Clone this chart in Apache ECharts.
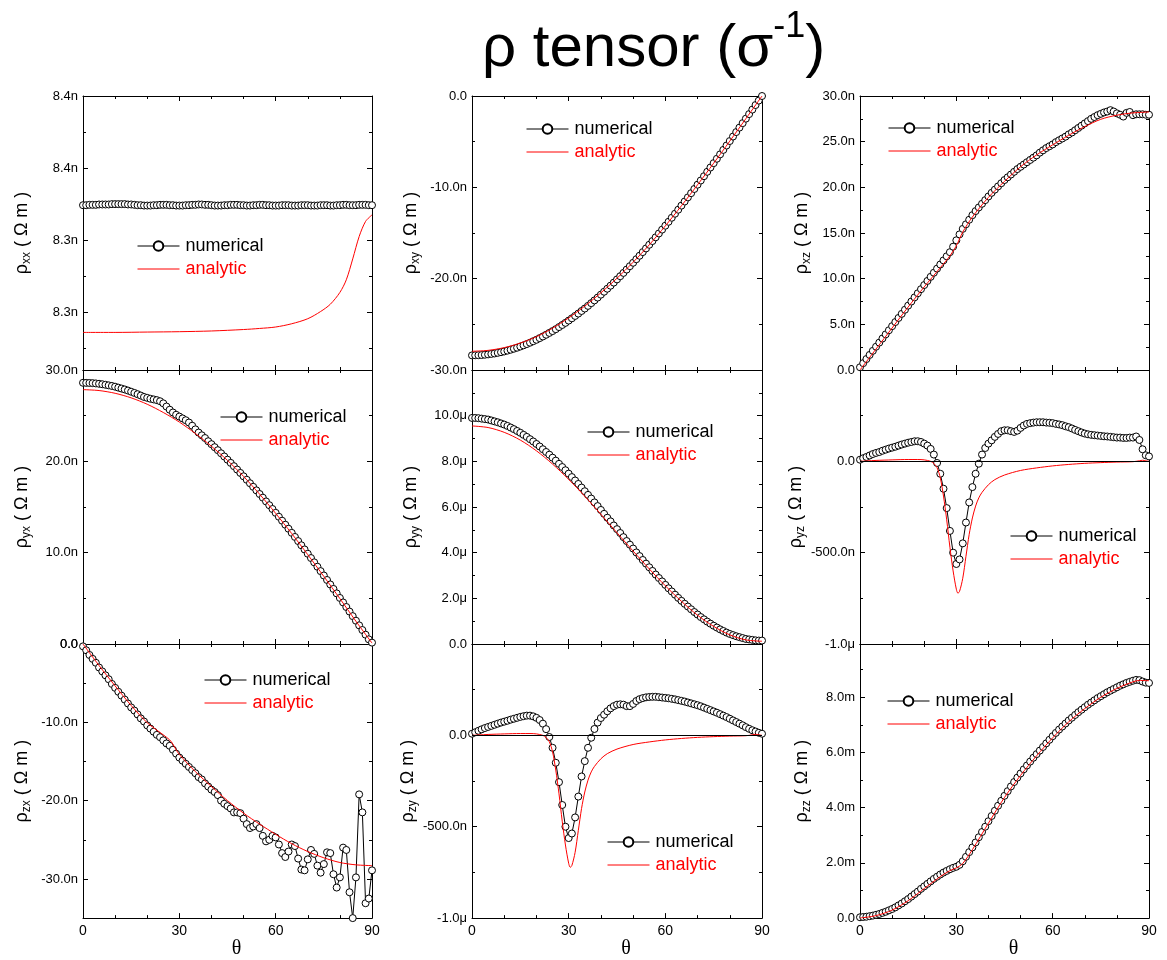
<!DOCTYPE html>
<html><head><meta charset="utf-8">
<script src="https://cdn.jsdelivr.net/npm/echarts@6/dist/echarts.min.js"></script>
<style>html,body{margin:0;padding:0;background:#fff}#c{width:1167px;height:960px}</style>
</head><body><div id="c"></div>
<script>
// ---------- DATA ----------
const theta = [
 0,1,2,3,4,5,6,7,8,9,
 10,11,12,13,14,15,16,17,18,19,
 20,21,22,23,24,25,26,27,28,29,
 30,31,32,33,34,35,36,37,38,39,
 40,41,42,43,44,45,46,47,48,49,
 50,51,52,53,54,55,56,57,58,59,
 60,61,62,63,64,65,66,67,68,69,
 70,71,72,73,74,75,76,77,78,79,
 80,81,82,83,84,85,86,87,88,89,
 90];

// rho_xx (n Ohm m)
const xxNum = [
 8.3497,8.3497,8.3498,8.3498,8.3498,8.3499,8.3499,8.3499,8.3499,8.3500,
 8.3500,8.3500,8.3500,8.3500,8.3499,8.3499,8.3498,8.3497,8.3497,8.3496,
 8.3496,8.3496,8.3497,8.3497,8.3498,8.3498,8.3498,8.3497,8.3497,8.3496,
 8.3496,8.3496,8.3497,8.3497,8.3498,8.3498,8.3499,8.3499,8.3498,8.3498,
 8.3497,8.3496,8.3496,8.3496,8.3497,8.3497,8.3498,8.3498,8.3498,8.3497,
 8.3497,8.3496,8.3496,8.3497,8.3497,8.3498,8.3498,8.3497,8.3497,8.3496,
 8.3496,8.3496,8.3497,8.3497,8.3497,8.3496,8.3496,8.3496,8.3497,8.3497,
 8.3497,8.3496,8.3496,8.3496,8.3497,8.3497,8.3497,8.3496,8.3496,8.3497,
 8.3497,8.3498,8.3498,8.3497,8.3497,8.3497,8.3498,8.3498,8.3498,8.3497,
 8.3497];
const xxAnaTheta = [0,10,20,30,40,50,55,60,65,70,74,77,80,82,84,86,88,90];
const xxAna = [8.3144,8.3144,8.3145,8.3146,8.3148,8.3152,8.3155,8.3159,8.3168,8.3182,8.3202,8.3222,8.3255,8.3290,8.3348,8.3410,8.3452,8.3470];

// rho_xy (n)
const xyNum = [
 -28.40,-28.39,-28.38,-28.36,-28.33,-28.29,-28.24,-28.19,-28.12,-28.05,
 -27.97,-27.88,-27.78,-27.67,-27.56,-27.43,-27.30,-27.16,-27.01,-26.85,
 -26.69,-26.51,-26.33,-26.14,-25.94,-25.74,-25.53,-25.30,-25.07,-24.84,
 -24.59,-24.34,-24.08,-23.82,-23.54,-23.27,-22.98,-22.68,-22.38,-22.07,
 -21.75,-21.43,-21.10,-20.77,-20.43,-20.08,-19.73,-19.37,-19.00,-18.63,
 -18.26,-17.87,-17.49,-17.09,-16.69,-16.29,-15.88,-15.47,-15.05,-14.63,
 -14.20,-13.77,-13.33,-12.89,-12.45,-12.00,-11.55,-11.10,-10.64,-10.18,
 -9.71,-9.25,-8.78,-8.30,-7.83,-7.35,-6.87,-6.39,-5.90,-5.42,
 -4.93,-4.44,-3.95,-3.46,-2.97,-2.48,-1.98,-1.49,-0.99,-0.50,
 0.00];
const xyAnaTheta = [0,5,10,15,20,25,30,35,40,45,50,55,60,65,70,75,80,85,90];
const xyAna = [-27.95,-27.85,-27.55,-27.05,-26.35,-25.42,-24.30,-23.00,-21.55,-19.95,-18.20,-16.30,-14.22,-12.02,-9.72,-7.36,-4.94,-2.48,0.00];

// rho_xz (n)
const xzNum = [
 0.30,0.75,1.20,1.65,2.10,2.55,3.00,3.45,3.90,4.35,
 4.80,5.25,5.70,6.15,6.60,7.05,7.50,7.95,8.40,8.85,
 9.30,9.75,10.20,10.65,11.10,11.55,12.00,12.45,12.90,13.50,
 14.20,14.85,15.45,15.95,16.45,16.95,17.40,17.80,18.20,18.60,
 19.00,19.40,19.75,20.10,20.45,20.80,21.10,21.40,21.70,22.00,
 22.25,22.50,22.75,23.00,23.25,23.50,23.80,24.05,24.30,24.50,
 24.70,24.95,25.15,25.35,25.55,25.80,26.00,26.25,26.50,26.75,
 27.00,27.25,27.50,27.70,27.90,28.05,28.20,28.30,28.45,28.30,
 28.10,27.95,27.75,28.15,28.25,27.90,28.00,28.00,28.00,27.95,
 27.95];
const xzAnaTheta = [0,5,10,15,20,25,28,30,32,35,40,45,50,55,60,65,70,75,80,85,90];
const xzAna = [0.00,2.30,4.60,6.90,9.10,11.20,12.50,13.60,15.10,16.75,18.90,20.65,22.25,23.55,24.65,25.70,26.65,27.45,27.90,28.15,28.25];

// rho_yx (n)
const yxNum = [
 28.60,28.59,28.58,28.56,28.53,28.49,28.44,28.38,28.32,28.25,
 28.17,28.07,27.97,27.87,27.75,27.62,27.49,27.35,27.20,27.05,
 26.95,26.85,26.78,26.70,26.58,26.35,26.00,25.65,25.35,25.10,
 24.90,24.70,24.50,24.25,23.90,23.50,23.15,22.85,22.55,22.20,
 21.88,21.55,21.22,20.88,20.53,20.18,19.83,19.47,19.10,18.73,
 18.36,17.98,17.60,17.21,16.82,16.42,16.02,15.61,15.20,14.78,
 14.36,13.93,13.50,13.06,12.62,12.17,11.72,11.27,10.81,10.35,
 9.88,9.41,8.94,8.46,7.98,7.50,7.01,6.52,6.03,5.54,
 5.04,4.55,4.05,3.55,3.05,2.55,2.04,1.53,1.02,0.51,
 0.15];
const yxAnaTheta = [0,5,10,15,20,25,30,35,40,45,50,55,60,65,70,75,80,85,90];
const yxAna = [27.85,27.75,27.45,26.95,26.25,25.35,24.30,23.05,21.65,20.10,18.35,16.40,14.30,12.09,9.78,7.40,4.97,2.49,0.10];

// rho_yy (micro)
const yyNum = [
 9.90,9.90,9.89,9.87,9.85,9.83,9.79,9.75,9.71,9.66,
 9.61,9.55,9.48,9.41,9.33,9.25,9.16,9.07,8.97,8.87,
 8.76,8.65,8.53,8.41,8.29,8.16,8.03,7.89,7.75,7.61,
 7.46,7.31,7.16,7.01,6.85,6.69,6.53,6.37,6.20,6.04,
 5.87,5.70,5.53,5.37,5.19,5.03,4.86,4.68,4.51,4.35,
 4.18,4.01,3.85,3.68,3.52,3.36,3.20,3.04,2.89,2.74,
 2.59,2.44,2.30,2.16,2.02,1.89,1.76,1.64,1.52,1.40,
 1.29,1.18,1.08,0.98,0.89,0.80,0.72,0.64,0.57,0.50,
 0.44,0.39,0.34,0.30,0.26,0.22,0.20,0.18,0.16,0.15,
 0.15];
const yyAnaTheta = [0,5,10,15,20,25,30,35,40,45,50,55,60,65,70,75,80,85,90];
const yyAna = [9.55,9.48,9.27,8.93,8.46,7.88,7.21,6.47,5.68,4.87,4.07,3.29,2.55,1.87,1.26,0.77,0.40,0.18,0.12];

// rho_yz (n)
const yzNum = [
 9,17,24,32,40,46,51,58,64,70,
 75,80,86,92,97,102,106,110,110,106,
 97,86,68,37,-9,-68,-150,-256,-381,-500,
 -562,-537,-449,-335,-225,-141,-68,-13,37,73,
 97,115,134,150,165,170,170,165,161,168,
 183,196,205,209,212,214,214,214,212,211,
 209,205,202,198,192,187,180,172,165,158,
 152,148,145,143,141,139,137,136,134,132,
 130,130,128,128,130,130,136,117,66,33,
 27];
const yzAnaTheta = [0,5,10,15,18,20,22,23,24,25,26,27,28,29,30,30.5,31,32,33,34,35,36,37,38,40,42,45,50,55,60,65,70,75,80,85,87,88,89,90];
const yzAna = [0,5,8,10,10,8,0,-12,-35,-90,-190,-320,-470,-600,-700,-722,-712,-640,-520,-400,-310,-245,-200,-170,-128,-100,-75,-50,-36,-25,-17,-11,-7,-4,-2,3,6,3,0];

// rho_zx (n)
const zxNum = [
 -0.3,-0.8,-1.4,-1.9,-2.4,-3.0,-3.5,-4.0,-4.5,-5.1,
 -5.6,-6.1,-6.6,-7.1,-7.6,-8.1,-8.5,-9.0,-9.5,-9.9,
 -10.4,-10.8,-11.2,-11.6,-11.9,-12.3,-12.7,-13.0,-13.5,-14.0,
 -14.5,-14.9,-15.3,-15.7,-16.1,-16.5,-17.0,-17.3,-17.8,-18.2,
 -18.6,-18.9,-19.3,-20.0,-20.4,-20.7,-21.0,-21.5,-21.5,-21.6,
 -22.3,-23.0,-23.5,-23.3,-23.0,-23.5,-24.5,-25.2,-25.0,-24.5,
 -24.7,-25.6,-26.7,-27.2,-26.5,-25.6,-25.8,-27.4,-28.8,-28.9,
 -27.5,-26.3,-26.8,-28.3,-29.2,-28.1,-26.6,-26.7,-29.4,-31.1,
 -29.8,-26.0,-26.3,-31.7,-35.0,-29.8,-19.2,-21.5,-33.1,-32.5,
 -28.9];
const zxAnaTheta = [0,5,10,15,20,25,27,28,29,30,35,40,45,50,55,60,65,70,75,80,85,90];
const zxAna = [0,-2.75,-5.35,-7.85,-10.05,-11.60,-12.25,-12.80,-13.50,-14.10,-16.30,-18.20,-20.00,-21.60,-23.00,-24.30,-25.50,-26.50,-27.30,-27.90,-28.20,-28.30];

// rho_zy (n)
const zyNum = [
 9,17,25,33,40,46,52,58,64,70,
 75,80,86,91,96,101,105,108,108,104,
 96,84,64,34,-9,-68,-150,-256,-381,-500,
 -562,-537,-449,-335,-225,-141,-68,-13,35,70,
 95,113,132,148,160,168,170,168,160,160,
 172,188,198,204,208,210,211,211,209,207,
 205,203,200,197,193,189,185,180,175,170,
 165,159,152,145,138,131,124,116,108,100,
 91,82,73,64,55,45,36,28,21,14,
 9];
const zyAnaTheta = [0,5,10,15,18,20,22,23,24,25,26,27,28,29,30,30.5,31,32,33,34,35,36,37,38,40,42,45,50,55,60,65,70,75,80,85,87,88,89,90];
const zyAna = [0,5,8,10,10,8,0,-12,-35,-90,-190,-320,-470,-600,-700,-722,-712,-640,-520,-400,-310,-245,-200,-170,-128,-100,-75,-50,-36,-25,-17,-11,-7,-4,-2,3,6,3,0];

// rho_zz (milli)
const zzNum = [
 0.03,0.04,0.05,0.07,0.09,0.12,0.15,0.19,0.23,0.28,
 0.33,0.39,0.46,0.53,0.61,0.69,0.78,0.87,0.96,1.06,
 1.15,1.24,1.33,1.42,1.50,1.58,1.65,1.71,1.77,1.82,
 1.86,1.93,2.06,2.22,2.39,2.56,2.74,2.93,3.12,3.31,
 3.51,3.70,3.89,4.07,4.25,4.43,4.60,4.77,4.93,5.09,
 5.24,5.39,5.53,5.67,5.81,5.94,6.07,6.20,6.33,6.46,
 6.59,6.71,6.83,6.94,7.05,7.16,7.26,7.36,7.46,7.55,
 7.64,7.73,7.81,7.89,7.97,8.04,8.11,8.18,8.24,8.30,
 8.36,8.42,8.47,8.52,8.56,8.60,8.63,8.62,8.57,8.53,
 8.52];
const zzAnaTheta = [0,5,10,15,20,25,28,30,32,35,40,45,50,55,60,65,70,75,80,85,87,90];
const zzAna = [0,0.09,0.29,0.63,1.07,1.50,1.72,1.82,1.98,2.48,3.44,4.37,5.17,5.88,6.53,7.11,7.59,8.00,8.32,8.56,8.61,8.60];

// ---------- TICKS ----------
const xMajor = [0,30,60,90];
const xMinor = [10,20,40,50,70,80];
const xLabels = ['0','30','60','90'];

const xxMajor = [8.32,8.34,8.36,8.38], xxMinor = [8.31,8.33,8.35,8.37];
const xxLabelVals = [8.32,8.34,8.36,8.38], xxLabels = ['8.3n','8.3n','8.4n','8.4n'];
const xyMajor = [-30,-20,-10,0], xyMinor = [-25,-15,-5];
const xyLabelVals = [-30,-20,-10,0], xyLabels = ['-30.0n','-20.0n','-10.0n','0.0'];
const xzMajor = [0,5,10,15,20,25,30], xzMinor = [2.5,7.5,12.5,17.5,22.5,27.5];
const xzLabelVals = [0,5,10,15,20,25,30], xzLabels = ['0.0','5.0n','10.0n','15.0n','20.0n','25.0n','30.0n'];
const yxMajor = [0,10,20,30], yxMinor = [5,15,25];
const yxLabelVals = [0,10,20,30], yxLabels = ['0.0','10.0n','20.0n','30.0n'];
const yyMajor = [0,2,4,6,8,10,12], yyMinor = [1,3,5,7,9,11];
const yyLabelVals = [0,2,4,6,8,10], yyLabels = ['0.0','2.0μ','4.0μ','6.0μ','8.0μ','10.0μ'];
const yzMajor = [-1000,-500,0,500], yzMinor = [-750,-250,250];
const yzLabelVals = [-1000,-500,0], yzLabels = ['-1.0μ','-500.0n','0.0'];
const zxMajor = [-30,-20,-10,0], zxMinor = [-25,-15,-5];
const zxLabelVals = [-30,-20,-10,0], zxLabels = ['-30.0n','-20.0n','-10.0n','0.0'];
const zyMajor = [-1000,-500,0,500], zyMinor = [-750,-250,250];
const zyLabelVals = [-1000,-500,0], zyLabels = ['-1.0μ','-500.0n','0.0'];
const zzMajor = [0,2,4,6,8], zzMinor = [1,3,5,7,9];
const zzLabelVals = [0,2,4,6,8], zzLabels = ['0.0','2.0m','4.0m','6.0m','8.0m'];

// ---------- LAYOUT ----------
const FONT = '"Liberation Sans", Arial, Helvetica, sans-serif';
const colLeft = [83, 472, 860], colW = [289, 290, 289];
const rowTop = [96, 370, 644], rowH = [274, 274, 274.5];

const panels = [
 {sub:'xx', num:xxNum, at:xxAnaTheta, av:xxAna, min:8.30397, max:8.38, major:xxMajor, minor:xxMinor, lv:xxLabelVals, lt:xxLabels, leg:[137,237], gap:50},
 {sub:'xy', num:xyNum, at:xyAnaTheta, av:xyAna, min:-30, max:0, major:xyMajor, minor:xyMinor, lv:xyLabelVals, lt:xyLabels, leg:[526,120], gap:50},
 {sub:'xz', num:xzNum, at:xzAnaTheta, av:xzAna, min:0, max:30, major:xzMajor, minor:xzMinor, lv:xzLabelVals, lt:xzLabels, leg:[888,119], gap:47},
 {sub:'yx', num:yxNum, at:yxAnaTheta, av:yxAna, min:0, max:30, major:yxMajor, minor:yxMinor, lv:yxLabelVals, lt:yxLabels, leg:[220,408], gap:50},
 {sub:'yy', num:yyNum, at:yyAnaTheta, av:yyAna, min:0, max:12, major:yyMajor, minor:yyMinor, lv:yyLabelVals, lt:yyLabels, leg:[587,423], gap:50},
 {sub:'yz', num:yzNum, at:yzAnaTheta, av:yzAna, min:-1000, max:500, major:yzMajor, minor:yzMinor, lv:yzLabelVals, lt:yzLabels, leg:[1010,527], gap:47, zero:true},
 {sub:'zx', num:zxNum, at:zxAnaTheta, av:zxAna, min:-35, max:0, major:zxMajor, minor:zxMinor, lv:zxLabelVals, lt:zxLabels, leg:[204,671], gap:50},
 {sub:'zy', num:zyNum, at:zyAnaTheta, av:zyAna, min:-1000, max:500, major:zyMajor, minor:zyMinor, lv:zyLabelVals, lt:zyLabels, leg:[607,833], gap:50, zero:true},
 {sub:'zz', num:zzNum, at:zzAnaTheta, av:zzAna, min:0, max:9.93, major:zzMajor, minor:zzMinor, lv:zzLabelVals, lt:zzLabels, leg:[887,692], gap:47}
];

const grids = [], xAxes = [], yAxes = [], series = [], legends = [];
const axisLineStyle = {color:'#000', width:1};

panels.forEach((p, i) => {
  const r = Math.floor(i / 3), c = i % 3;
  grids.push({left: colLeft[c], top: rowTop[r], width: colW[c], height: rowH[r], containLabel: false});
  const isBottom = r === 2;
  const xBase = {type:'value', gridIndex:i, min:0, max:90, splitLine:{show:false}};
  xAxes.push(Object.assign({}, xBase, {
    position:'bottom',
    axisLine:{show:true, onZero:false, lineStyle:axisLineStyle},
    axisTick:{show:true, inside:true, length:5, customValues:xMajor, lineStyle:axisLineStyle},
    axisLabel:{show:isBottom, customValues:xMajor, margin:6, color:'#000', fontSize:14, fontFamily:FONT,
      formatter: v => { const k = xMajor.indexOf(v); return k >= 0 ? xLabels[k] : ''; }},
    name: isBottom ? 'θ' : '', nameLocation:'middle', nameGap:20,
    nameTextStyle:{fontFamily:'"Liberation Serif", "DejaVu Serif", serif', fontSize:20, color:'#000', padding:[0,0,0,18]}
  }));
  xAxes.push(Object.assign({}, xBase, {
    position:'bottom', axisLine:{show:false, onZero:false},
    axisTick:{show:true, inside:true, length:3, customValues:xMinor, lineStyle:axisLineStyle},
    axisLabel:{show:false}
  }));
  xAxes.push(Object.assign({}, xBase, {
    position:'top', axisLine:{show:true, onZero:false, lineStyle:axisLineStyle},
    axisTick:{show:true, inside:true, length:5, customValues:xMajor, lineStyle:axisLineStyle},
    axisLabel:{show:false}
  }));
  xAxes.push(Object.assign({}, xBase, {
    position:'top', axisLine:{show:false, onZero:false},
    axisTick:{show:true, inside:true, length:3, customValues:xMinor, lineStyle:axisLineStyle},
    axisLabel:{show:false}
  }));

  const yBase = {type:'value', gridIndex:i, min:p.min, max:p.max, splitLine:{show:false}, scale:true};
  yAxes.push(Object.assign({}, yBase, {
    position:'left',
    axisLine:{show:true, onZero:false, lineStyle:axisLineStyle},
    axisTick:{show:true, inside:true, length:5, customValues:p.major, lineStyle:axisLineStyle},
    axisLabel:{show:true, customValues:p.lv, margin:5, color:'#000', fontSize:13, fontFamily:FONT,
      formatter: v => { for (let k = 0; k < p.lv.length; k++) { if (Math.abs(p.lv[k] - v) < 1e-7) return p.lt[k]; } return ''; }},
    name:'{r|ρ}{s|' + p.sub + '}{r| ( Ω m )}', nameLocation:'middle', nameRotate:90, nameGap:p.gap,
    nameTextStyle:{rich:{
      r:{fontSize:18, fontFamily:FONT, color:'#000'},
      s:{fontSize:12, fontFamily:FONT, color:'#000', padding:[9,0,0,0]}
    }}
  }));
  yAxes.push(Object.assign({}, yBase, {
    position:'left', axisLine:{show:false, onZero:false},
    axisTick:{show:true, inside:true, length:3, customValues:p.minor, lineStyle:axisLineStyle},
    axisLabel:{show:false}
  }));
  yAxes.push(Object.assign({}, yBase, {
    position:'right', axisLine:{show:true, onZero:false, lineStyle:axisLineStyle},
    axisTick:{show:true, inside:true, length:5, customValues:p.major, lineStyle:axisLineStyle},
    axisLabel:{show:false}
  }));
  yAxes.push(Object.assign({}, yBase, {
    position:'right', axisLine:{show:false, onZero:false},
    axisTick:{show:true, inside:true, length:3, customValues:p.minor, lineStyle:axisLineStyle},
    axisLabel:{show:false}
  }));

  const numSeries = {
    type:'line', name:'numerical', xAxisIndex:4*i, yAxisIndex:4*i,
    data: theta.map((t, k) => [t, p.num[k]]),
    symbol:'circle', symbolSize:7, showSymbol:true, showAllSymbol:true,
    lineStyle:{color:'#000', width:1},
    itemStyle:{color:'#fff', borderColor:'#000', borderWidth:1},
    clip:false, z:3, animation:false
  };
  if (p.zero) {
    numSeries.markLine = {silent:true, symbol:'none', label:{show:false}, animation:false,
      lineStyle:{color:'#000', width:1, type:'solid'}, data:[{yAxis:0}]};
  }
  series.push(numSeries);
  series.push({
    type:'line', name:'analytic', xAxisIndex:4*i, yAxisIndex:4*i,
    data: p.at.map((t, k) => [t, p.av[k]]),
    smooth:0.3, showSymbol:false, symbol:'none',
    lineStyle:{color:'#ff0000', width:1}, itemStyle:{color:'#ff0000', opacity:0},
    clip:true, z:4, animation:false
  });

  legends.push({
    left:p.leg[0], top:p.leg[1], orient:'vertical', padding:0, itemGap:5,
    itemWidth:42, itemHeight:12, selectedMode:false,
    lineStyle:{width:1},
    textStyle:{fontSize:18, fontFamily:FONT, color:'#000', padding:[0,0,0,1]},
    data:[
      {name:'numerical', textStyle:{color:'#000'}},
      {name:'analytic', textStyle:{color:'#ff0000'}, itemStyle:{opacity:0}}
    ]
  });
});

const chart = echarts.init(document.getElementById('c'), null, {renderer:'canvas'});
chart.setOption({
  backgroundColor:'#fff',
  animation:false,
  title:{
    text:'{a|ρ tensor (σ}{b|-1}{a|)}', left:482, top:9, padding:0,
    textStyle:{rich:{
      a:{fontSize:60, fontWeight:'normal', fontFamily:FONT, color:'#000', lineHeight:70, verticalAlign:'top', padding:[10,0,0,0]},
      b:{fontSize:36, fontWeight:'normal', fontFamily:FONT, color:'#000', lineHeight:30, verticalAlign:'top'}
    }}
  },
  grid: grids, xAxis: xAxes, yAxis: yAxes, series: series, legend: legends
});
</script></body></html>
